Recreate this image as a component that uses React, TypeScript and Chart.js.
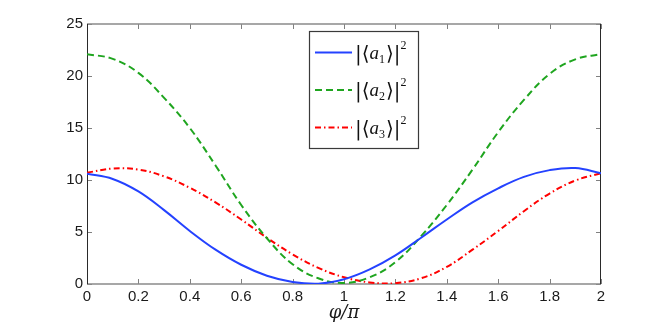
import React, { useEffect, useRef } from "react";
import { Chart, registerables } from "chart.js";
Chart.register(...registerables);

const phi = [0, 0.1, 0.2, 0.3, 0.4, 0.5, 0.6, 0.7, 0.8, 0.9, 1.0, 1.1, 1.2, 1.3, 1.4, 1.5, 1.6, 1.7, 1.8, 1.9, 2.0];
const a1 = [10.6, 10.1, 8.9, 7.1, 5.1, 3.3, 1.85, 0.8, 0.2, 0.03, 0.45, 1.4, 2.75, 4.45, 6.2, 7.85, 9.2, 10.3, 10.95, 11.15, 10.65];
const a2 = [22.1, 21.65, 20.3, 17.9, 15.0, 11.4, 7.6, 4.4, 1.9, 0.55, 0.1, 0.65, 2.1, 4.6, 7.6, 11.0, 14.6, 17.7, 20.2, 21.6, 22.1];
const a3 = [10.7, 11.1, 11.0, 10.35, 9.25, 7.85, 6.2, 4.45, 2.85, 1.55, 0.65, 0.15, 0.08, 0.55, 1.65, 3.3, 5.1, 7.0, 8.7, 9.95, 10.65];
const subscripts = ["1", "2", "3"];
const xTicks = [0, 0.2, 0.4, 0.6, 0.8, 1, 1.2, 1.4, 1.6, 1.8, 2];
const yTicks = [0, 5, 10, 15, 20, 25];
const xTitle = "\u03C6/\u03C0";

const tickFont = { family: '"Liberation Sans", Arial, sans-serif', size: 15 };

const axesPlugin = {
  id: "matlabAxes",
  beforeDatasetsDraw(chart: any) {
    const { ctx, chartArea: a, scales } = chart;
    ctx.save();
    ctx.strokeStyle = "#808080";
    ctx.lineWidth = 1;
    const tl = 5;
    ctx.beginPath();
    for (const v of xTicks) {
      const x = Math.round(scales.x.getPixelForValue(v)) + 0.5;
      ctx.moveTo(x, a.bottom);
      ctx.lineTo(x, a.bottom - tl);
      ctx.moveTo(x, a.top);
      ctx.lineTo(x, a.top + tl);
    }
    for (const v of yTicks) {
      const y = Math.round(scales.y.getPixelForValue(v)) + 0.5;
      ctx.moveTo(a.left, y);
      ctx.lineTo(a.left + tl, y);
      ctx.moveTo(a.right, y);
      ctx.lineTo(a.right - tl, y);
    }
    ctx.stroke();
    ctx.lineWidth = 1.5;
    ctx.strokeStyle = "#8a8a8a";
    ctx.beginPath();
    ctx.moveTo(a.left, a.top);
    ctx.lineTo(a.right, a.top);
    ctx.moveTo(a.left, a.bottom);
    ctx.lineTo(a.right, a.bottom);
    ctx.stroke();
    ctx.lineWidth = 1;
    ctx.strokeStyle = "#2a2a2a";
    ctx.beginPath();
    ctx.moveTo(Math.round(a.left) + 0.5, a.top);
    ctx.lineTo(Math.round(a.left) + 0.5, a.bottom);
    ctx.moveTo(Math.round(a.right) - 0.5, a.top);
    ctx.lineTo(Math.round(a.right) - 0.5, a.bottom);
    ctx.stroke();
    ctx.restore();
  },
  afterDraw(chart: any) {
    const { ctx } = chart;
    ctx.save();
    const bx = 309, by = 31, bw = 109, bh = 117;
    ctx.fillStyle = "#ffffff";
    ctx.fillRect(bx, by, bw, bh);
    ctx.strokeStyle = "#3a3a3a";
    ctx.lineWidth = 1.2;
    ctx.strokeRect(bx + 0.5, by + 0.5, bw, bh);
    chart.data.datasets.forEach((ds: any, i: number) => {
      const ly = 52.5 + i * 37.5;
      ctx.strokeStyle = ds.borderColor;
      ctx.lineWidth = ds.borderWidth;
      ctx.setLineDash(ds.borderDash || []);
      ctx.beginPath();
      ctx.moveTo(315, ly);
      ctx.lineTo(352, ly);
      ctx.stroke();
      ctx.setLineDash([]);
      ctx.fillStyle = "#111";
      ctx.textBaseline = "alphabetic";
      ctx.textAlign = "left";
      const base = ly + 6;
      let x = 355;
      const put = (t: string, font: string, dy: number) => {
        ctx.font = font;
        ctx.fillText(t, x, base + dy);
        x += ctx.measureText(t).width;
      };
      const big = '20px "DejaVu Serif", serif';
      put("|\u27E8", big, 1);
      put("a", 'italic 19px "Liberation Serif", serif', 0);
      put(subscripts[i], '12px "Liberation Serif", serif', 4);
      x += 1;
      put("\u27E9|", big, 1);
      put("2", '12px "Liberation Serif", serif', -10);
    });
    ctx.restore();
  },
};

export default function App() {
  const ref = useRef<HTMLCanvasElement>(null);
  useEffect(() => {
    document.body.style.margin = "0";
    const mk = (ys: number[]) => phi.map((x, i) => ({ x, y: ys[i] }));
    const chart = new Chart(ref.current!, {
      type: "line",
      data: {
        datasets: [
          { data: mk(a1), borderColor: "#2442ff", borderWidth: 2, pointRadius: 0, tension: 0.4, fill: false },
          { data: mk(a2), borderColor: "#1fa51f", borderWidth: 2, borderDash: [7, 4], pointRadius: 0, tension: 0.4, fill: false },
          { data: mk(a3), borderColor: "#ff0000", borderWidth: 2, borderDash: [6, 3, 1.5, 3], pointRadius: 0, tension: 0.4, fill: false },
        ] as any,
      },
      options: {
        animation: false,
        responsive: false,
        maintainAspectRatio: false,
        events: [],
        layout: { padding: { left: 0, right: 63, top: 24, bottom: 0 } },
        plugins: { legend: { display: false }, tooltip: { enabled: false } },
        scales: {
          x: {
            type: "linear",
            min: 0,
            max: 2,
            grid: { display: false, drawTicks: false },
            border: { display: false },
            afterBuildTicks: (s: any) => { s.ticks = xTicks.map((v) => ({ value: v })); },
            afterFit: (s: any) => { s.height = 40; },
            ticks: { font: tickFont, color: "#1a1a1a", padding: 4, maxRotation: 0, autoSkip: false, callback: (v: any) => String(v) },
            title: { display: true, text: xTitle, font: { family: '"DejaVu Serif", serif', size: 18, style: "italic" }, color: "#1a1a1a", padding: 0 },
          },
          y: {
            min: 0,
            max: 25,
            grid: { display: false, drawTicks: false },
            border: { display: false },
            afterBuildTicks: (s: any) => { s.ticks = yTicks.map((v) => ({ value: v })); },
            afterFit: (s: any) => { s.width = 87; },
            ticks: { font: tickFont, color: "#1a1a1a", padding: 4, autoSkip: false, callback: (v: any) => String(v) },
          },
        },
      },
      plugins: [axesPlugin],
    });
    return () => chart.destroy();
  }, []);
  return (
    <div style={{ position: "absolute", left: 0, top: 0, width: 664, height: 324 }}>
      <canvas ref={ref} width={664} height={324} style={{ width: 664, height: 324 }} />
    </div>
  );
}
